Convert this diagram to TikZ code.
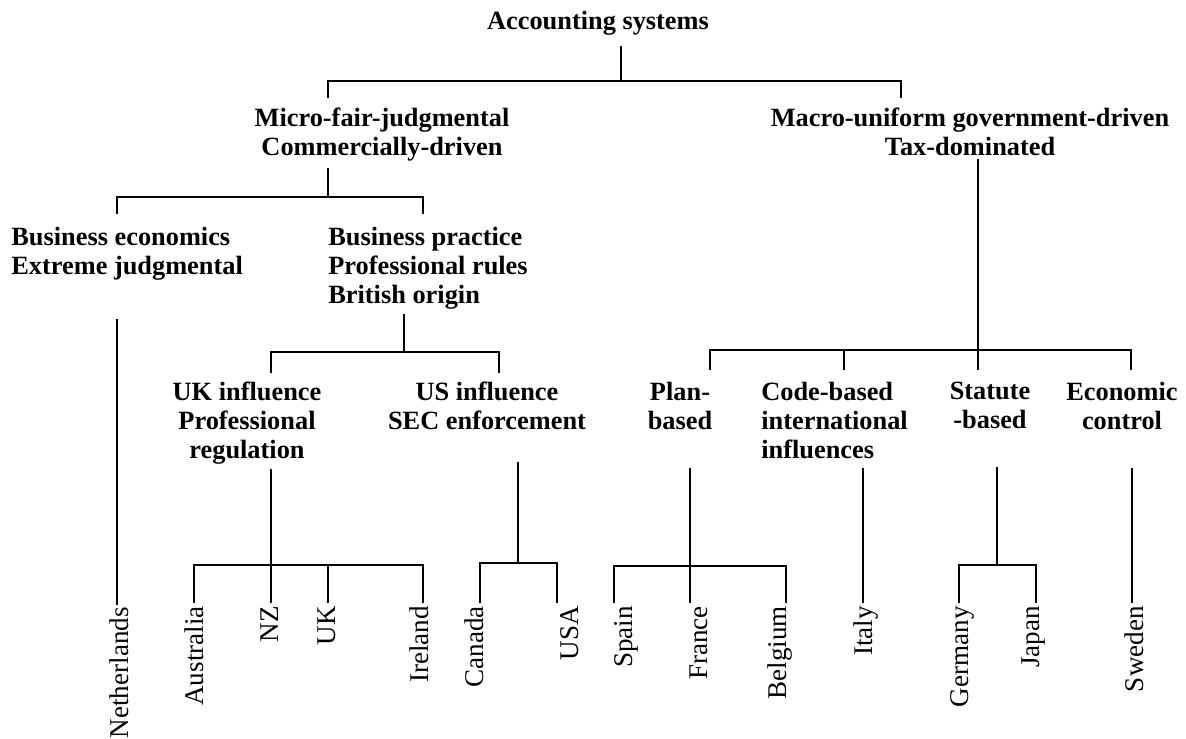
\documentclass[tikz,border=0pt]{standalone}
\usepackage{fontspec}
\setmainfont{Liberation Serif}
\usetikzlibrary{calc}
\begin{document}
\begin{tikzpicture}[x=0.02cm,y=-0.02cm,
  hd/.style={font=\bfseries\fontsize{15}{16.5}\selectfont, inner sep=0pt, align=center, anchor=north},
  hdl/.style={hd, align=left, anchor=north west},
  ctry/.style={font=\fontsize{15.4}{18}\selectfont, inner sep=0pt, rotate=90, anchor=base east},
  ln/.style={line width=1.3pt}]
\useasboundingbox (0,0) rectangle (1186,738);

% ---- headings ----
\node[hd] (root) at (598,11) {Accounting systems};
\node[hd] (micro) at (382,108) {Micro-fair-judgmental\\Commercially-driven};
\node[hd] (macro) at (970,108) {Macro-uniform government-driven\\Tax-dominated};
\node[hdl] (busecon) at (11,227) {Business economics\\Extreme judgmental};
\node[hdl] (buspract) at (328,227) {Business practice\\Professional rules\\British origin};
\node[hd] (ukinf) at (247,382) {UK influence\\Professional\\regulation};
\node[hd] (usinf) at (487,382) {US influence\\SEC enforcement};
\node[hd] (plan) at (680,382) {Plan-\\based};
\node[hdl] (code) at (761,382) {Code-based\\international\\influences};
\node[hd] (statute) at (990,382) {Statute\\-based};
\node[hd] (econ) at (1122,382) {Economic\\control};

% ---- countries (read bottom to top) ----
\node[ctry] (nl) at (128,607) {Netherlands};
\node[ctry] (au) at (203,606) {Australia};
\node[ctry] (nz) at (278,606) {NZ};
\node[ctry] (uk) at (335,606) {UK};
\node[ctry] (ie) at (428,606) {Ireland};
\node[ctry] (ca) at (483,606) {Canada};
\node[ctry] (us) at (578,606) {USA};
\node[ctry] (es) at (632,606) {Spain};
\node[ctry] (fr) at (707,606) {France};
\node[ctry] (be) at (786,606) {Belgium};
\node[ctry] (it) at (872,606) {Italy};
\node[ctry] (de) at (968,606) {Germany};
\node[ctry] (jp) at (1039,606) {Japan};
\node[ctry] (se) at (1143,606) {Sweden};

% ---- junction points ----
\coordinate (j0) at (621,81);  \coordinate (j0L) at (328,81);  \coordinate (j0R) at (901,81);
\coordinate (j1) at (328,197); \coordinate (j1L) at (117,197); \coordinate (j1R) at (423,197);
\coordinate (j2) at (404,352); \coordinate (j2L) at (271,352); \coordinate (j2R) at (499,352);
\coordinate (j3) at (271,565); \coordinate (j3L) at (194,565); \coordinate (j3M) at (328,565); \coordinate (j3R) at (423,565);
\coordinate (j4) at (518,563); \coordinate (j4L) at (480,563); \coordinate (j4R) at (557,563);
\coordinate (k0) at (978,350); \coordinate (k0a) at (710,350); \coordinate (k0b) at (844,350); \coordinate (k0d) at (1131,350);
\coordinate (k1) at (690,566); \coordinate (k1L) at (614,566); \coordinate (k1R) at (786,566);
\coordinate (k2) at (863,467);
\coordinate (k3) at (997,565); \coordinate (k3L) at (959,565); \coordinate (k3R) at (1036,565);
\coordinate (k4) at (1132,467);

% ---- top split ----
\draw[ln] ($(root.south -| j0)+(0,10)$) -- (j0);
\draw[ln] ($(micro.north -| j0L)+(0,-10)$) -- (j0L) -- (j0R) -- ($(macro.north -| j0R)+(0,-10)$);

% ---- micro side ----
\draw[ln] ($(micro.south -| j1)+(0,6)$) -- (j1);
\draw[ln] ($(busecon.north -| j1L)+(0,-13)$) -- (j1L) -- (j1R) -- ($(buspract.north -| j1R)+(0,-13)$);
\draw[ln] ($(busecon.south -| j1L)+(0,38)$) -- ($(nl.east -| j1L)+(0,-2)$);

\draw[ln] ($(buspract.south -| j2)+(0,4)$) -- (j2);
\draw[ln] ($(ukinf.north -| j2L)+(0,-9)$) -- (j2L) -- (j2R) -- ($(usinf.north -| j2R)+(0,-9)$);

\draw[ln] ($(ukinf.south -| j3)+(0,4)$) -- (j3) -- ($(nz.east -| j3)+(0,-3)$);
\draw[ln] ($(au.east -| j3L)+(0,-3)$) -- (j3L) -- (j3R) -- ($(ie.east -| j3R)+(0,-3)$);
\draw[ln] (j3M) -- ($(uk.east -| j3M)+(0,-3)$);

\draw[ln] ($(usinf.south -| j4)+(0,31)$) -- (j4);
\draw[ln] ($(ca.east -| j4L)+(0,-3)$) -- (j4L) -- (j4R) -- ($(us.east -| j4R)+(0,-3)$);

% ---- macro side ----
\draw[ln] ($(macro.south -| k0)+(0,2)$) -- (k0);
\draw[ln] ($(plan.north -| k0a)+(0,-12)$) -- (k0a) -- (k0d) -- ($(econ.north -| k0d)+(0,-12)$);
\draw[ln] (k0b) -- ($(code.north -| k0b)+(0,-12)$);
\draw[ln] (k0) -- ($(statute.north -| k0)+(0,-12)$);

\draw[ln] ($(plan.south -| k1)+(0,38)$) -- (k1) -- ($(fr.east -| k1)+(0,-3)$);
\draw[ln] ($(es.east -| k1L)+(0,-3)$) -- (k1L) -- (k1R) -- ($(be.east -| k1R)+(0,-3)$);

\draw[ln] ($(code.south -| k2)+(0,9)$) -- ($(it.east -| k2)+(0,-3)$);

\draw[ln] ($(statute.south -| k3)+(0,38)$) -- (k3);
\draw[ln] ($(de.east -| k3L)+(0,-3)$) -- (k3L) -- (k3R) -- ($(jp.east -| k3R)+(0,-3)$);

\draw[ln] ($(econ.south -| k4)+(0,38)$) -- ($(se.east -| k4)+(0,-3)$);
\end{tikzpicture}
\end{document}
